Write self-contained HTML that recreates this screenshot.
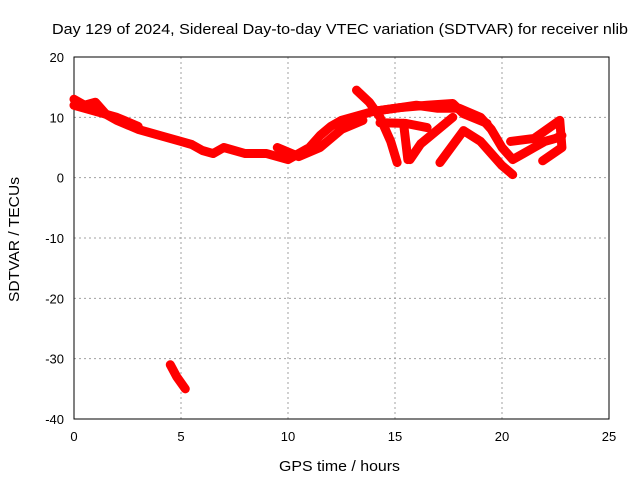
<!DOCTYPE html>
<html><head><meta charset="utf-8"><style>
body{margin:0;background:#fff;}
svg{display:block;font-family:"Liberation Sans",sans-serif;}
</style></head><body>
<svg id="c" width="640" height="480"></svg>
<script>
const xTicks=[0,5,10,15,20,25];
const yTicks=[-40,-30,-20,-10,0,10,20];
const trackMain=[[0,13],[0.5,12],[1,12.5],[1.5,10.5],[2,9.5],[3,8],[4,7],[5,6],[5.5,5.5],[6,4.5],[6.5,4],[7,5],[8,4],[9,4],[9.5,3.5],[10,3],[10.5,4],[11,5],[11.5,7],[12,8.5],[12.5,9.5],[13,10],[13.5,10.5],[14,11],[15,11.5],[16,12],[17,11.5],[18,11.5],[19,10],[19.5,8],[20,5],[20.5,3],[21,4],[21.5,5],[22,6],[22.5,6.5],[22.8,7]];
const trackB=[[13.2,14.5],[13.8,12.5],[14.3,10],[14.8,6],[15.1,2.5]];
const trackC=[[14,11],[15.2,11.6],[16.5,12],[17.7,12.3],[18.2,10.6],[19.3,9]];
const trackD=[[15.4,9],[15.5,6],[15.6,3]];
const trackE=[[17.1,2.5],[18.2,7.8],[19,6],[20,2],[20.5,0.5]];
const trackF=[[17.7,10],[16.2,5.6],[15.7,3]];
const trackG=[[14.3,9.1],[15.5,9],[16.5,8.3]];
const trackH=[[20.4,6],[21.5,6.5],[22.7,9.5],[22.8,5],[21.9,2.8]];
const trackI=[[0,12],[1,11],[2,10],[3,8.5]];
const trackJ=[[9.5,5],[10.5,3.5],[11.5,5],[12.5,8],[13.5,9.5]];
const trackNeg=[[4.5,-31],[4.8,-33],[5.2,-35]];
const tracks=[trackMain,trackB,trackC,trackD,trackE,trackF,trackG,trackH,trackI,trackJ,trackNeg];
const X0=74,X1=609,Y0=419,Y1=57;
const sx=v=>X0+(v-0)/25*(X1-X0);
const sy=v=>Y0-(v+40)/60*(Y0-Y1);
const svg=document.getElementById('c');
const NS='http://www.w3.org/2000/svg';
function mk(t,a,txt){const e=document.createElementNS(NS,t);for(const k in a)e.setAttribute(k,a[k]);if(txt!=null)e.textContent=txt;svg.appendChild(e);return e;}
xTicks.forEach(v=>{
 const g=mk('line',{x1:sx(v),x2:sx(v),y1:Y1,y2:Y0,stroke:'#a0a0a0','stroke-dasharray':'2,3'});
 
 
 const t=mk('text',{x:sx(v),y:Y0+22,'text-anchor':'middle','font-size':13},v);
 
 
});
yTicks.forEach(v=>{
 const g=mk('line',{x1:X0,x2:X1,y1:sy(v),y2:sy(v),stroke:'#a0a0a0','stroke-dasharray':'2,3'});
 
 
 const t=mk('text',{x:X0-10,y:sy(v)+5,'text-anchor':'end','font-size':13},v);
 
 
});
const fr=mk('rect',{x:X0,y:Y1,width:X1-X0,height:Y0-Y1,fill:'none',stroke:'#000'});


tracks.forEach(tr=>{
 const p=mk('polyline',{points:tr.map(d=>sx(d[0])+','+sy(d[1])).join(' '),fill:'none',stroke:'#ff0000','stroke-width':9,'stroke-linejoin':'round','stroke-linecap':'round'});
 
 
});
const ti=mk('text',{x:52,y:34,'font-size':14.5,textLength:576,lengthAdjust:'spacingAndGlyphs'},'Day 129 of 2024, Sidereal Day-to-day VTEC variation (SDTVAR) for receiver nlib');


const xl=mk('text',{x:279,y:471,'font-size':14.5,textLength:121,lengthAdjust:'spacingAndGlyphs'},'GPS time / hours');


const yl=mk('text',{x:0,y:0,'font-size':14.5,textLength:125,lengthAdjust:'spacingAndGlyphs',transform:'translate(19,302) rotate(-90)'},'SDTVAR / TECUs');


</script>
</body></html>
